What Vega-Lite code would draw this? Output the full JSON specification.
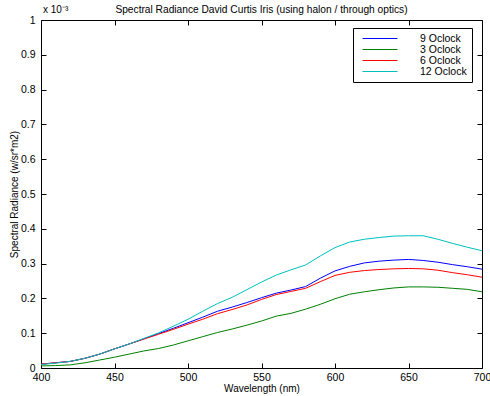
{
  "$schema": "https://vega.github.io/schema/vega-lite/v6.json",
  "width": 441,
  "height": 348,
  "autosize": "none",
  "padding": {"left": 41, "top": 20, "right": 8, "bottom": 28},
  "background": "white",
  "config": {
    "font": "Liberation Sans",
    "view": {"stroke": null},
    "axis": {"grid": false, "domainColor": "black", "tickColor": "black", "labelColor": "black", "titleColor": "black", "labelFont": "Liberation Sans", "titleFont": "Liberation Sans", "titleFontWeight": "normal", "labelFontSize": 10.5, "titleFontSize": 10}
  },
  "title": {"text": "Spectral Radiance David Curtis Iris (using halon / through optics)", "fontSize": 10.2, "fontWeight": "normal", "font": "Liberation Sans", "offset": -10, "frame": "group", "color": "black"},
  "datasets": {
    "spectra": [
      {"nm":400,"series":"9 Oclock","v":0.011},{"nm":410,"series":"9 Oclock","v":0.015},{"nm":420,"series":"9 Oclock","v":0.019},{"nm":430,"series":"9 Oclock","v":0.028},{"nm":440,"series":"9 Oclock","v":0.040},{"nm":450,"series":"9 Oclock","v":0.055},{"nm":460,"series":"9 Oclock","v":0.069},{"nm":470,"series":"9 Oclock","v":0.084},{"nm":480,"series":"9 Oclock","v":0.099},{"nm":490,"series":"9 Oclock","v":0.114},{"nm":500,"series":"9 Oclock","v":0.130},{"nm":510,"series":"9 Oclock","v":0.146},{"nm":520,"series":"9 Oclock","v":0.163},{"nm":530,"series":"9 Oclock","v":0.175},{"nm":540,"series":"9 Oclock","v":0.188},{"nm":550,"series":"9 Oclock","v":0.202},{"nm":560,"series":"9 Oclock","v":0.215},{"nm":570,"series":"9 Oclock","v":0.224},{"nm":580,"series":"9 Oclock","v":0.234},{"nm":590,"series":"9 Oclock","v":0.258},{"nm":600,"series":"9 Oclock","v":0.279},{"nm":610,"series":"9 Oclock","v":0.292},{"nm":620,"series":"9 Oclock","v":0.302},{"nm":630,"series":"9 Oclock","v":0.307},{"nm":640,"series":"9 Oclock","v":0.310},{"nm":650,"series":"9 Oclock","v":0.312},{"nm":660,"series":"9 Oclock","v":0.309},{"nm":670,"series":"9 Oclock","v":0.304},{"nm":680,"series":"9 Oclock","v":0.297},{"nm":690,"series":"9 Oclock","v":0.291},{"nm":700,"series":"9 Oclock","v":0.284},
      {"nm":400,"series":"3 Oclock","v":0.006},{"nm":410,"series":"3 Oclock","v":0.007},{"nm":420,"series":"3 Oclock","v":0.009},{"nm":430,"series":"3 Oclock","v":0.015},{"nm":440,"series":"3 Oclock","v":0.023},{"nm":450,"series":"3 Oclock","v":0.031},{"nm":460,"series":"3 Oclock","v":0.040},{"nm":470,"series":"3 Oclock","v":0.049},{"nm":480,"series":"3 Oclock","v":0.056},{"nm":490,"series":"3 Oclock","v":0.066},{"nm":500,"series":"3 Oclock","v":0.078},{"nm":510,"series":"3 Oclock","v":0.090},{"nm":520,"series":"3 Oclock","v":0.102},{"nm":530,"series":"3 Oclock","v":0.112},{"nm":540,"series":"3 Oclock","v":0.123},{"nm":550,"series":"3 Oclock","v":0.135},{"nm":560,"series":"3 Oclock","v":0.149},{"nm":570,"series":"3 Oclock","v":0.157},{"nm":580,"series":"3 Oclock","v":0.169},{"nm":590,"series":"3 Oclock","v":0.183},{"nm":600,"series":"3 Oclock","v":0.199},{"nm":610,"series":"3 Oclock","v":0.212},{"nm":620,"series":"3 Oclock","v":0.219},{"nm":630,"series":"3 Oclock","v":0.225},{"nm":640,"series":"3 Oclock","v":0.230},{"nm":650,"series":"3 Oclock","v":0.233},{"nm":660,"series":"3 Oclock","v":0.233},{"nm":670,"series":"3 Oclock","v":0.232},{"nm":680,"series":"3 Oclock","v":0.229},{"nm":690,"series":"3 Oclock","v":0.226},{"nm":700,"series":"3 Oclock","v":0.219},
      {"nm":400,"series":"6 Oclock","v":0.011},{"nm":410,"series":"6 Oclock","v":0.015},{"nm":420,"series":"6 Oclock","v":0.019},{"nm":430,"series":"6 Oclock","v":0.028},{"nm":440,"series":"6 Oclock","v":0.040},{"nm":450,"series":"6 Oclock","v":0.055},{"nm":460,"series":"6 Oclock","v":0.069},{"nm":470,"series":"6 Oclock","v":0.083},{"nm":480,"series":"6 Oclock","v":0.097},{"nm":490,"series":"6 Oclock","v":0.111},{"nm":500,"series":"6 Oclock","v":0.126},{"nm":510,"series":"6 Oclock","v":0.140},{"nm":520,"series":"6 Oclock","v":0.156},{"nm":530,"series":"6 Oclock","v":0.168},{"nm":540,"series":"6 Oclock","v":0.181},{"nm":550,"series":"6 Oclock","v":0.197},{"nm":560,"series":"6 Oclock","v":0.211},{"nm":570,"series":"6 Oclock","v":0.220},{"nm":580,"series":"6 Oclock","v":0.229},{"nm":590,"series":"6 Oclock","v":0.248},{"nm":600,"series":"6 Oclock","v":0.266},{"nm":610,"series":"6 Oclock","v":0.275},{"nm":620,"series":"6 Oclock","v":0.280},{"nm":630,"series":"6 Oclock","v":0.283},{"nm":640,"series":"6 Oclock","v":0.285},{"nm":650,"series":"6 Oclock","v":0.286},{"nm":660,"series":"6 Oclock","v":0.285},{"nm":670,"series":"6 Oclock","v":0.281},{"nm":680,"series":"6 Oclock","v":0.274},{"nm":690,"series":"6 Oclock","v":0.268},{"nm":700,"series":"6 Oclock","v":0.261},
      {"nm":400,"series":"12 Oclock","v":0.010},{"nm":410,"series":"12 Oclock","v":0.014},{"nm":420,"series":"12 Oclock","v":0.019},{"nm":430,"series":"12 Oclock","v":0.028},{"nm":440,"series":"12 Oclock","v":0.040},{"nm":450,"series":"12 Oclock","v":0.055},{"nm":460,"series":"12 Oclock","v":0.069},{"nm":470,"series":"12 Oclock","v":0.085},{"nm":480,"series":"12 Oclock","v":0.101},{"nm":490,"series":"12 Oclock","v":0.120},{"nm":500,"series":"12 Oclock","v":0.140},{"nm":510,"series":"12 Oclock","v":0.163},{"nm":520,"series":"12 Oclock","v":0.185},{"nm":530,"series":"12 Oclock","v":0.203},{"nm":540,"series":"12 Oclock","v":0.225},{"nm":550,"series":"12 Oclock","v":0.247},{"nm":560,"series":"12 Oclock","v":0.267},{"nm":570,"series":"12 Oclock","v":0.282},{"nm":580,"series":"12 Oclock","v":0.296},{"nm":590,"series":"12 Oclock","v":0.322},{"nm":600,"series":"12 Oclock","v":0.346},{"nm":610,"series":"12 Oclock","v":0.362},{"nm":620,"series":"12 Oclock","v":0.370},{"nm":630,"series":"12 Oclock","v":0.375},{"nm":640,"series":"12 Oclock","v":0.379},{"nm":650,"series":"12 Oclock","v":0.380},{"nm":660,"series":"12 Oclock","v":0.380},{"nm":670,"series":"12 Oclock","v":0.370},{"nm":680,"series":"12 Oclock","v":0.358},{"nm":690,"series":"12 Oclock","v":0.347},{"nm":700,"series":"12 Oclock","v":0.337}
    ]
  },
  "data": {"name": "spectra"},
  "layer": [
    {
      "mark": {"type": "line", "strokeWidth": 1},
      "encoding": {
        "x": {"field": "nm", "type": "quantitative", "scale": {"domain": [400, 700], "nice": false, "zero": false},
              "axis": {"orient": "bottom", "title": "Wavelength (nm)", "values": [400,450,500,550,600,650,700], "tickSize": -5, "labelPadding": 9, "titlePadding": 1, "labelFlush": false, "format": "d"}},
        "y": {"field": "v", "type": "quantitative", "scale": {"domain": [0, 1], "nice": false},
              "axis": {"orient": "left", "title": "Spectral Radiance (w/sr*m2)", "values": [0,0.1,0.2,0.3,0.4,0.5,0.6,0.7,0.8,0.9,1], "tickSize": -5, "labelPadding": 11, "titlePadding": 1, "labelFlush": false, "format": "~g"}},
        "color": {"field": "series", "type": "nominal",
                  "scale": {"domain": ["9 Oclock","3 Oclock","6 Oclock","12 Oclock"], "range": ["#0000ff","#008000","#ff0000","#00bfbf"]},
                  "legend": {"orient": "none", "legendX": 312, "legendY": 8, "title": null, "symbolType": "M-0.2,0H6.8", "symbolSize": 100, "symbolStrokeWidth": 1, "labelFontSize": 10.5, "labelFont": "Liberation Sans", "labelColor": "black", "labelOffset": 51, "strokeColor": "black", "fillColor": "white", "padding": 5, "rowPadding": 0}}
      }
    },
    {
      "mark": {"type": "point", "opacity": 0},
      "encoding": {
        "x": {"field": "nm", "type": "quantitative", "axis": {"orient": "top", "title": null, "labels": false, "values": [400,450,500,550,600,650,700], "tickSize": -5}},
        "y": {"field": "v", "type": "quantitative", "axis": {"orient": "right", "title": null, "labels": false, "values": [0,0.1,0.2,0.3,0.4,0.5,0.6,0.7,0.8,0.9,1], "tickSize": -5}}
      }
    },
    {
      "data": {"values": [{"label": "x 10⁻³", "nm": 400, "v": 1}]},
      "mark": {"type": "text", "align": "left", "baseline": "bottom", "dx": 2, "dy": -5, "fontSize": 10, "font": "Liberation Sans", "color": "black"},
      "encoding": {
        "x": {"field": "nm", "type": "quantitative", "axis": null},
        "y": {"field": "v", "type": "quantitative", "axis": null},
        "text": {"field": "label"}
      }
    }
  ],
  "resolve": {"axis": {"x": "independent", "y": "independent"}}
}
